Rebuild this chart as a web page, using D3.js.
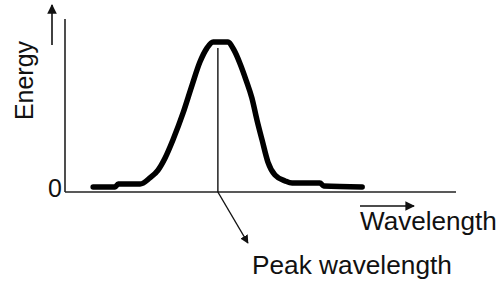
<!DOCTYPE html>
<html>
<head>
<meta charset="utf-8">
<script src="https://cdn.jsdelivr.net/npm/d3@7"></script>
<style>
  body { margin: 0; background: #fff; }
  text { font-family: "Liberation Sans", Arial, sans-serif; fill: #111; }
</style>
</head>
<body>
<svg id="chart"></svg>
<script>
  // spectrum (arbitrary units 0-10 on both axes)
  var wavelength = [0.72, 1.28, 1.36, 1.92, 2.17, 2.38, 2.56, 2.76, 3.02, 3.25, 3.45, 3.63, 3.79,
                    4.17, 4.32, 4.48, 4.63, 4.78, 4.91, 5.04, 5.19, 5.37, 5.63, 5.81, 6.52, 6.62, 7.60];
  var energy = [0.29, 0.29, 0.46, 0.46, 0.81, 1.27, 1.97, 3.01, 4.57, 6.18, 7.51, 8.32, 8.67,
                8.67, 8.21, 7.40, 6.47, 5.43, 4.16, 3.01, 1.73, 0.98, 0.64, 0.52, 0.52, 0.35, 0.29];
  var peakWavelength = 3.91;
  var peakEnergy = 8.32;
  var yTicks = [0];
  var yTitle = "Energy";
  var xTitle = "Wavelength";
  var peakLabel = "Peak wavelength";

  var svgWidth = 504, svgHeight = 282;
  var fontSize = 25;
  var svg = d3.select("#chart").attr("width", svgWidth).attr("height", svgHeight);

  var defs = svg.append("defs");
  defs.append("marker")
    .attr("id", "head")
    .attr("viewBox", "0 0 10 10")
    .attr("refX", 9).attr("refY", 5)
    .attr("markerWidth", 6).attr("markerHeight", 6)
    .attr("markerUnits", "strokeWidth")
    .attr("orient", "auto")
    .append("path")
    .attr("d", "M0,0L10,5L0,10Z")
    .attr("fill", "#111");

  var x = d3.scaleLinear().domain([0, 10]).range([65, 456]);
  var y = d3.scaleLinear().domain([0, 10]).range([192, 19]);

  var data = wavelength.map(function(d, i) { return { w: d, e: energy[i] }; });

  // axes: just the lines and the "0"
  svg.append("line")
    .attr("x1", x(0)).attr("x2", x(0))
    .attr("y1", y(0)).attr("y2", y(10))
    .attr("stroke", "#222").attr("stroke-width", 1.6);
  svg.append("line")
    .attr("x1", x(0)).attr("x2", x(10))
    .attr("y1", y(0)).attr("y2", y(0))
    .attr("stroke", "#222").attr("stroke-width", 1.6);

  svg.selectAll(".ytick")
    .data(yTicks)
    .enter()
    .append("text")
    .attr("class", "ytick")
    .attr("x", x(0) - 3)
    .attr("y", function(d) { return y(d) + 5; })
    .attr("text-anchor", "end")
    .attr("font-size", fontSize)
    .text(function(d) { return d; });

  // axis titles with arrows
  svg.append("text")
    .attr("transform", "translate(33,80.5) rotate(-90)")
    .attr("text-anchor", "middle")
    .attr("font-size", fontSize)
    .text(yTitle);
  svg.append("line")
    .attr("x1", 52).attr("x2", 52)
    .attr("y1", 45).attr("y2", 5)
    .attr("stroke", "#111").attr("stroke-width", 1.6)
    .attr("marker-end", "url(#head)");

  svg.append("text")
    .attr("transform", "translate(360,230) scale(1.045,1)")
    .attr("font-size", fontSize)
    .text(xTitle);
  svg.append("line")
    .attr("x1", 360).attr("x2", 414)
    .attr("y1", 206).attr("y2", 206)
    .attr("stroke", "#111").attr("stroke-width", 1.6)
    .attr("marker-end", "url(#head)");

  // curve
  var line = d3.line()
    .x(function(d) { return x(d.w); })
    .y(function(d) { return y(d.e); })
    .curve(d3.curveMonotoneX);

  svg.append("path")
    .datum(data)
    .attr("fill", "none")
    .attr("stroke", "#000")
    .attr("stroke-width", 5.5)
    .attr("stroke-linejoin", "round")
    .attr("stroke-linecap", "round")
    .attr("d", line);

  // peak marker
  svg.append("line")
    .attr("x1", x(peakWavelength)).attr("x2", x(peakWavelength))
    .attr("y1", y(peakEnergy)).attr("y2", y(0))
    .attr("stroke", "#111").attr("stroke-width", 1.4);
  svg.append("line")
    .attr("x1", x(peakWavelength)).attr("x2", x(peakWavelength) + 30)
    .attr("y1", y(0)).attr("y2", 243)
    .attr("stroke", "#111").attr("stroke-width", 1.4)
    .attr("marker-end", "url(#head)");

  svg.append("text")
    .attr("transform", "translate(252,274) scale(1.05,1)")
    .attr("font-size", fontSize)
    .text(peakLabel);
</script>
</body>
</html>
